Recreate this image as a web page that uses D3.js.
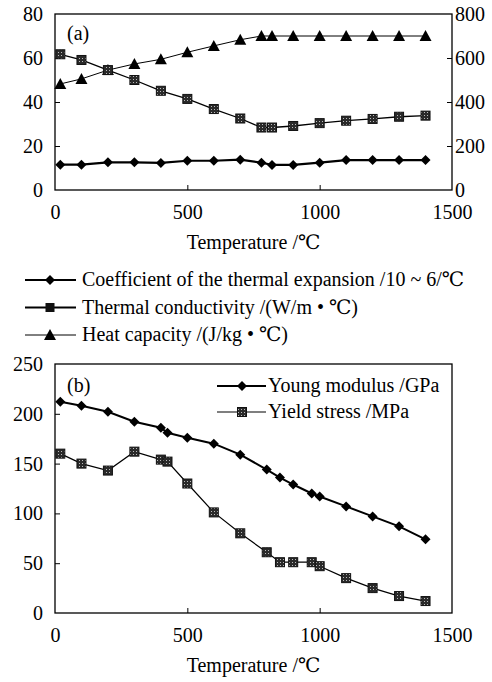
<!DOCTYPE html>
<html><head><meta charset="utf-8">
<script src="https://cdn.jsdelivr.net/npm/d3@7"></script>
<style>
html,body{margin:0;padding:0;background:#fff;}
svg text{font-family:"Liberation Serif","DejaVu Serif","Times New Roman",serif;fill:#000;}
</style></head>
<body>
<svg id="chart" width="492" height="682"></svg>
<script>
// ---------- data ----------
const tempA = [20,100,200,300,400,500,600,700,780,820,900,1000,1100,1200,1300,1400];
const cteA  = [11.5,11.5,12.6,12.6,12.3,13.3,13.3,13.8,12.4,11.4,11.4,12.4,13.6,13.6,13.6,13.6];
const condA = [61.7,59.1,54.5,50,45.1,41.4,36.8,32.5,28.4,28.4,29.1,30.4,31.5,32.3,33.3,33.8];
const heatA = [482,505,545,573,594,626,655,683,700,700,700,700,700,700,700,700];

const tempB  = [20,100,200,300,400,425,500,600,700,800,850,900,970,1000,1100,1200,1300,1400];
const youngB = [212,208,202,192,186,181,176,170,159,144,136,129,120,117,107,97,87,74];
const yieldB = [160,150,143,162,154,152,130,101,80,61,51,51,51,47,35,25,17,12];

const xTicks   = [0,500,1000,1500];
const yTicksA  = [0,20,40,60,80];
const yTicksA2 = [0,200,400,600,800];
const yTicksB  = [0,50,100,150,200,250];

const legendA = ["Coefficient of the thermal expansion /10 ~ 6/\u2103",
                 "Thermal conductivity /(W/m \u2022 \u2103)",
                 "Heat capacity /(J/kg \u2022 \u2103)"];
const legendB = ["Young modulus /GPa","Yield stress /MPa"];
const xTitle = "Temperature /\u2103";

// ---------- setup ----------
const svg = d3.select("#chart");
const FS = 20;
const defs = svg.append("defs");
const pat = defs.append("pattern").attr("id","sqpat").attr("patternUnits","userSpaceOnUse")
  .attr("width",3).attr("height",3);
pat.append("rect").attr("width",3).attr("height",3).attr("fill","#2a2a2a");
pat.append("rect").attr("x",1).attr("y",1).attr("width",1).attr("height",1).attr("fill","#bbb");

const L = 55, R = 452;
const x = d3.scaleLinear().domain([0,1500]).range([L,R]);
const yA = d3.scaleLinear().domain([0,80]).range([190,14]);
const yA2 = d3.scaleLinear().domain([0,800]).range([190,14]);
const yB = d3.scaleLinear().domain([0,250]).range([613,364]);

function marker(g, type, cx, cy) {
  if (type==="diamond") {
    g.append("path").attr("d",`M${cx},${cy-5}L${cx+5},${cy}L${cx},${cy+5}L${cx-5},${cy}Z`).attr("fill","#000");
  } else if (type==="square") {
    g.append("rect").attr("x",cx-4.5).attr("y",cy-4.5).attr("width",9).attr("height",9)
      .attr("fill","url(#sqpat)").attr("stroke","#111").attr("stroke-width",1);
  } else if (type==="squareSolid") {
    g.append("rect").attr("x",cx-4.5).attr("y",cy-4.5).attr("width",9).attr("height",9).attr("fill","#111");
  } else if (type==="triangle") {
    g.append("path").attr("d",`M${cx},${cy-6}L${cx+6},${cy+5}L${cx-6},${cy+5}Z`).attr("fill","#000");
  }
}

function series(xs, ys, xs_, ys_, width, type) {
  const g = svg.append("g");
  const pts = xs.map((d,i)=>[xs_(d), ys_(ys[i])]);
  g.append("path").attr("d", d3.line()(pts)).attr("fill","none").attr("stroke","#000").attr("stroke-width",width);
  pts.forEach(p=>marker(g,type,p[0],p[1]));
}

function styleAxis(g){
  g.select(".domain").remove();
  g.selectAll("line").attr("stroke","#000").attr("stroke-width",1);
  g.selectAll("text").attr("font-size",FS).attr("font-family",null);
}

function panel(yS, top, bottom, yTicks, yS2, yTicks2) {
  const gx = svg.append("g").attr("transform",`translate(0,${bottom})`)
    .call(d3.axisBottom(x).tickValues(xTicks).tickFormat(d3.format("d")).tickSizeInner(-5).tickSizeOuter(0).tickPadding(15));
  styleAxis(gx);
  gx.selectAll(".tick").filter(d=>d===0||d===1500).select("line").remove();
  const gy = svg.append("g").attr("transform",`translate(${L},0)`)
    .call(d3.axisLeft(yS).tickValues(yTicks).tickSizeInner(-5).tickSizeOuter(0).tickPadding(12));
  styleAxis(gy);
  gy.selectAll(".tick").filter((d,i,n)=>i===0||i===n.length-1).select("line").remove();
  if (yS2) {
    const gy2 = svg.append("g").attr("transform",`translate(${R},0)`)
      .call(d3.axisRight(yS2).tickValues(yTicks2).tickSizeInner(-5).tickSizeOuter(0).tickPadding(3));
    styleAxis(gy2);
    gy2.selectAll(".tick").filter((d,i,n)=>i===0||i===n.length-1).select("line").remove();
  }
  svg.append("rect").attr("x",L).attr("y",top).attr("width",R-L).attr("height",bottom-top)
    .attr("fill","none").attr("stroke","#000").attr("stroke-width",1.3);
}

// ---------- panel (a) ----------
panel(yA, 14, 190, yTicksA, yA2, yTicksA2);
series(tempA, heatA, x, yA2, 1, "triangle");
series(tempA, condA, x, yA, 1.3, "square");
series(tempA, cteA, x, yA, 2.2, "diamond");
svg.append("text").attr("x",67).attr("y",40).attr("font-size",FS).text("(a)");
svg.append("text").attr("x",(L+R)/2).attr("y",249).attr("text-anchor","middle").attr("font-size",FS).text(xTitle);

const legTypes = ["diamond","squareSolid","triangle"];
const legW = [2.2,2,1];
legendA.forEach((t,i)=>{
  const cy = 280 + i*27.5;
  const g = svg.append("g");
  g.append("line").attr("x1",25).attr("x2",76).attr("y1",cy).attr("y2",cy).attr("stroke","#000").attr("stroke-width",legW[i]);
  marker(g, legTypes[i], 50, cy);
  g.append("text").attr("x",82).attr("y",cy+6).attr("font-size",FS).text(t);
});

// ---------- panel (b) ----------
panel(yB, 364, 613, yTicksB, null, null);
series(tempB, yieldB, x, yB, 1.2, "square");
series(tempB, youngB, x, yB, 2, "diamond");
svg.append("text").attr("x",67).attr("y",392).attr("font-size",FS).text("(b)");
svg.append("text").attr("x",(L+R)/2).attr("y",672).attr("text-anchor","middle").attr("font-size",FS).text(xTitle);

const legBTypes = ["diamond","square"];
const legBW = [2,1.2];
legendB.forEach((t,i)=>{
  const cy = 386 + i*26;
  const g = svg.append("g");
  g.append("line").attr("x1",217).attr("x2",266).attr("y1",cy).attr("y2",cy).attr("stroke","#000").attr("stroke-width",legBW[i]);
  marker(g, legBTypes[i], 242, cy);
  g.append("text").attr("x",268).attr("y",cy+6).attr("font-size",FS).text(t);
});
</script>
</body></html>
